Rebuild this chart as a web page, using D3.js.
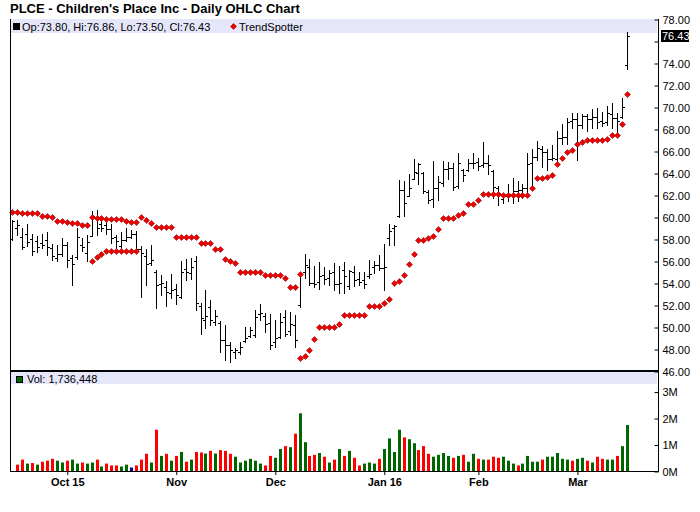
<!DOCTYPE html>
<html>
<head>
<meta charset="utf-8">
<script src="https://cdn.jsdelivr.net/npm/d3@7"></script>
<style>
  body { margin: 0; background: #fff; }
  svg text { font-family: "Liberation Sans", Arial, sans-serif; }
</style>
</head>
<body>
<svg id="chart" width="700" height="512"></svg>
<script>
// ---- data ----
var holidays = ['2015-11-26', '2015-12-25', '2016-01-01', '2016-01-18', '2016-02-15'];
var tickLabels = ['Oct 15', 'Nov', 'Dec', 'Jan 16', 'Feb', 'Mar'];

var open = [
  58.0, 59.0, 58.2, 58.5, 58.0, 57.8, 57.6, 57.9, 57.2, 56.3,
  56.6, 57.5, 56.3, 56.4, 57.5, 56.7, 58.3, 60.0, 59.4, 59.3,
  58.9, 58.2, 57.4, 57.9, 58.2, 58.5, 57.1, 56.5, 55.8, 55.0,
  53.9, 53.6, 53.1, 53.5, 52.7, 55.3, 54.9, 56.0, 51.9, 50.6,
  51.8, 50.5, 50.4, 48.8, 48.4, 47.7, 47.7, 48.7, 49.2, 49.3,
  51.2, 51.0, 50.4, 48.6, 49.1, 50.9, 49.6, 50.2, 52.0, 55.0,
  55.5, 54.0, 54.1, 54.7, 54.5, 55.0, 53.9, 55.2, 53.75, 55.0,
  54.4, 54.3, 54.6, 55.5, 55.6, 55.4, 58.1, 59.0, 60.1, 62.5,
  61.9, 63.5, 64.0, 64.0, 62.3, 61.6, 62.6, 63.1, 64.4, 64.5,
  62.8, 64.3, 64.3, 64.9, 65.0, 64.7, 64.9, 64.2, 62.6, 61.6,
  61.9, 62.0, 62.4, 62.5, 62.6, 64.9, 65.5, 66.2, 65.9, 65.3,
  65.3, 67.2, 67.3, 68.7, 68.9, 68.4, 69.2, 68.9, 69.1, 68.7,
  68.6, 69.4, 69.0, 69.1, 73.80
];
var high = [
  59.77, 59.77, 59.01, 59.37, 58.46, 58.25, 58.46, 58.64, 57.55, 57.49,
  58.1, 57.73, 56.58, 59.01, 58.1, 58.4, 60.53, 60.68, 60.07, 59.77,
  59.37, 58.4, 58.64, 59.01, 58.86, 58.7, 57.34, 57.09, 57.43, 55.21,
  54.75, 54.2, 54.81, 53.9, 55.97, 56.18, 56.27, 56.43, 52.17, 53.39,
  52.47, 51.56, 50.59, 50.19, 48.67, 48.06, 48.67, 50.04, 50.04, 51.56,
  52.11, 51.26, 51.2, 50.65, 51.26, 51.56, 51.32, 51.1, 54.91, 56.67,
  56.18, 55.51, 55.88, 55.45, 55.21, 55.85, 55.51, 55.88, 55.21, 55.57,
  54.96, 54.96, 56.06, 55.97, 56.58, 57.58, 59.37, 59.31, 63.36, 63.27,
  63.87, 65.24, 64.94, 64.09, 62.5, 65.09, 63.72, 65.09, 65.0, 64.94,
  65.79, 64.39, 65.3, 65.85, 65.39, 66.82, 65.61, 64.24, 62.81, 62.2,
  63.02, 63.57, 63.27, 62.96, 65.85, 66.15, 66.92, 66.46, 66.15, 66.55,
  67.83, 68.44, 68.98, 69.41, 69.5, 69.35, 69.35, 69.8, 69.9, 69.59,
  70.11, 70.32, 69.5, 70.81, 76.86
];
var low = [
  57.94, 58.34, 57.12, 57.34, 56.58, 56.82, 57.18, 56.58, 56.06, 55.97,
  56.48, 55.45, 53.78, 56.21, 56.94, 55.97, 58.25, 58.34, 58.7, 58.46,
  57.64, 56.88, 57.03, 57.79, 58.1, 57.03, 52.71, 53.84, 55.6, 51.77,
  52.93, 51.92, 52.62, 52.07, 52.62, 54.3, 54.36, 51.56, 49.37, 49.89,
  50.19, 50.19, 47.76, 47.0, 46.85, 47.15, 47.55, 48.67, 49.07, 49.13,
  50.65, 49.58, 47.97, 48.22, 48.98, 49.19, 49.28, 48.15, 51.8, 54.45,
  53.84, 53.63, 53.45, 53.93, 53.84, 53.32, 53.08, 53.08, 53.44, 53.75,
  53.84, 53.53, 54.45, 54.9, 55.15, 53.38, 57.49, 57.49, 60.01, 60.13,
  61.9, 63.48, 62.96, 62.2, 61.29, 60.92, 61.53, 62.81, 63.48, 62.45,
  62.66, 63.27, 64.18, 64.48, 64.27, 64.57, 63.87, 61.75, 61.1, 61.23,
  61.5, 61.23, 61.5, 61.75, 62.2, 62.66, 65.15, 64.54, 64.24, 65.15,
  64.79, 66.61, 66.67, 68.13, 65.15, 68.13, 67.83, 68.13, 68.07, 68.28,
  68.38, 68.13, 67.46, 68.98, 73.50
];
var close = [
  59.6, 59.3, 57.3, 57.7, 56.9, 57.3, 57.5, 57.3, 56.5, 56.6,
  57.5, 56.1, 55.7, 58.2, 57.3, 57.7, 60.1, 59.0, 59.0, 58.9,
  58.1, 57.8, 57.9, 58.2, 58.5, 57.1, 56.7, 55.7, 56.1, 53.8,
  54.0, 53.2, 53.4, 52.9, 55.0, 55.0, 55.5, 52.2, 50.8, 51.0,
  50.6, 51.0, 48.8, 48.4, 47.9, 47.9, 48.2, 49.0, 49.7, 50.9,
  51.3, 50.3, 48.4, 49.0, 50.5, 49.4, 50.3, 48.8, 54.8, 55.6,
  54.0, 53.9, 54.6, 54.4, 54.9, 53.9, 54.0, 54.6, 55.05, 54.3,
  54.05, 53.93, 54.84, 55.6, 55.36, 55.45, 58.77, 59.16, 62.5, 61.3,
  62.66, 64.09, 64.85, 62.35, 61.59, 62.66, 63.17, 64.39, 64.48, 62.75,
  64.94, 63.8, 64.88, 64.94, 64.6, 64.94, 64.69, 62.7, 62.2, 61.9,
  62.05, 62.35, 62.5, 62.6, 64.85, 65.45, 66.25, 65.94, 65.24, 65.4,
  67.22, 67.3, 68.68, 68.9, 68.38, 69.2, 68.9, 69.1, 68.68, 68.59,
  69.41, 69.04, 68.74, 70.02, 76.43
];
var trend = [
  60.47, 60.47, 60.38, 60.38, 60.38, 60.38, 60.07, 60.07, 60.01, 59.68,
  59.68, 59.56, 59.46, 59.46, 59.25, 59.25, 60.01, 59.92, 59.92, 59.86,
  59.86, 59.86, 59.86, 59.68, 59.56, 59.56, 60.01, 59.77, 59.46, 59.1,
  59.1, 59.1, 59.1, 58.19, 58.19, 58.19, 58.19, 58.19, 57.64, 57.64,
  57.64, 57.1, 57.1, 56.18, 56.03, 55.82, 55.0, 55.0, 55.0, 55.0,
  55.0, 54.75, 54.75, 54.75, 54.75, 54.45, 53.63, 53.63, 47.15, 47.36,
  47.91, 48.88, 50.04, 50.04, 50.04, 50.04, 50.25, 51.1, 51.1, 51.1,
  51.1, 51.1, 51.92, 51.92, 51.92, 52.17, 52.53, 53.99, 54.2, 54.72,
  55.72, 56.64, 57.94, 57.94, 58.1, 58.31, 58.95, 59.92, 59.92, 59.92,
  60.16, 60.38, 61.2, 61.2, 61.59, 62.05, 62.05, 62.05, 62.05, 62.02,
  62.02, 62.02, 62.02, 62.02, 62.02, 62.66, 63.57, 63.57, 63.66, 63.78,
  64.85, 65.39, 65.88, 66.12, 66.61, 66.85, 66.98, 66.98, 66.98, 66.98,
  67.13, 67.43, 67.43, 68.5, 71.14
];
// second TrendSpotter row shown around the reversals
var trendAlt = {16: 55.97, 17: 56.36, 18: 56.64, 19: 56.94, 20: 56.94, 21: 56.94,
  22: 56.94, 23: 56.94, 24: 56.94, 25: 56.94, 58: 54.84};

// volume in millions; first day's bar is not shown
var volume = [
  null, 0.24, 0.43, 0.28, 0.30, 0.24, 0.35, 0.39, 0.46, 0.39, 0.32,
  0.39, 0.43, 0.28, 0.32, 0.28, 0.32, 0.43, 0.17, 0.28, 0.21,
  0.21, 0.17, 0.24, 0.13, 0.21, 0.43, 0.65, 0.32, 1.56, 0.57,
  0.65, 0.39, 0.57, 0.72, 0.35, 0.43, 0.72, 0.70, 0.66, 0.76,
  0.66, 0.79, 0.76, 0.65, 0.54, 0.32, 0.39, 0.46, 0.39, 0.28,
  0.21, 0.57, 0.50, 0.83, 0.94, 0.90, 1.41, 2.18, 1.09, 0.57,
  0.61, 0.68, 0.54, 0.32, 0.43, 0.83, 0.57, 0.76, 0.50, 0.21,
  0.28, 0.32, 0.28, 0.46, 0.83, 1.23, 0.72, 1.56, 1.27, 1.20,
  1.05, 0.79, 0.94, 0.65, 0.54, 0.61, 0.68, 0.57, 0.50, 0.57,
  0.61, 0.35, 0.65, 0.46, 0.43, 0.43, 0.54, 0.50, 0.54, 0.39,
  0.28, 0.21, 0.28, 0.57, 0.35, 0.35, 0.43, 0.54, 0.54, 0.68,
  0.46, 0.43, 0.39, 0.46, 0.50, 0.39, 0.32, 0.54, 0.46, 0.43,
  0.43, 0.57, 0.94, 1.736448
];
// u = up day, d = down day, n = unchanged
var volDir = ('d' + 'ddududdduu' + 'duuduududd' + 'duundddudu' + 'dudududdud' +
  'uddduuuuuu' + 'dduududuud' + 'dududududd' + 'uuuduuuudu' + 'uddduuuudu' +
  'duududdduu' + 'uduuuuduuu' + 'uuduududdu' + 'uduu').split('');

// trading days Sep 16 2015 .. Mar 15 2016
var fmtDay = d3.utcFormat('%Y-%m-%d');
var dates = d3.utcDay.range(new Date(Date.UTC(2015, 8, 16)), new Date(Date.UTC(2016, 2, 16)))
  .filter(function(d) {
    return d.getUTCDay() !== 0 && d.getUTCDay() !== 6 && holidays.indexOf(fmtDay(d)) < 0;
  });

var monthStarts = [];
dates.forEach(function(d, i) {
  if (i > 0 && d.getUTCMonth() !== dates[i - 1].getUTCMonth()) monthStarts.push(i);
});

// ---- layout ----
var left = 10, right = 658;
var priceTop = 19, priceBottom = 371;
var volTop = 372, volBottom = 471;
var font = '"Liberation Sans", Arial, sans-serif';

var svg = d3.select('#chart');

var x = d3.scaleLinear().domain([0, dates.length - 1]).range([12.3, 626.5]);
var y = d3.scaleLinear().domain([46, 78]).range([priceBottom, priceTop]);
var yv = d3.scaleLinear().domain([0, 3.74]).range([volBottom, volTop]);

function px(i) { return Math.round(x(i)) + 0.5; }
function py(v) { return Math.round(y(v)) + 0.5; }

// title
svg.append('text')
  .attr('x', 10).attr('y', 13)
  .attr('font-size', 13).attr('font-weight', 'bold')
  .text('PLCE - Children\'s Place Inc - Daily OHLC Chart');

// legend bands
svg.append('rect').attr('x', left + 1).attr('y', priceTop)
  .attr('width', right - left - 2).attr('height', 14).attr('fill', '#e6e6fa');
svg.append('rect').attr('x', left + 1).attr('y', volTop)
  .attr('width', right - left - 2).attr('height', 12).attr('fill', '#e6e6fa');

var n = close.length - 1;
svg.append('rect').attr('x', 13.5).attr('y', 23.5).attr('width', 6).attr('height', 6)
  .attr('fill', '#000').attr('stroke', '#000');
svg.append('text').attr('x', 22).attr('y', 30.5).attr('font-size', 11)
  .text('Op:' + open[n].toFixed(2) + ', Hi:' + high[n].toFixed(2) +
        ', Lo:' + low[n].toFixed(2) + ', Cl:' + close[n].toFixed(2));

function diamond(g, cx, cy) {
  g.append('path')
    .attr('d', 'M' + cx + ',' + (cy - 3) + 'L' + (cx + 3) + ',' + cy + 'L' + cx + ',' + (cy + 3) +
      'L' + (cx - 3) + ',' + cy + 'Z')
    .attr('fill', '#ee0000').attr('stroke', '#a00000').attr('stroke-width', 0.6);
}
diamond(svg, 233.5, 26.5);
svg.append('text').attr('x', 239).attr('y', 30.5).attr('font-size', 11).text('TrendSpotter');

svg.append('rect').attr('x', 16.5).attr('y', 376.5).attr('width', 6).attr('height', 6)
  .attr('fill', '#006600').attr('stroke', '#000');
svg.append('text').attr('x', 27).attr('y', 383).attr('font-size', 11)
  .text('Vol: ' + d3.format(',')(Math.round(volume[n] * 1e6)));

// volume bars
var volColor = {u: '#006600', d: '#ff0000', n: '#000080'};
svg.append('g').selectAll('rect')
  .data(volume.map(function(v, i) { return {i: i, v: v}; }).filter(function(d) { return d.v !== null; }))
  .enter().append('rect')
  .attr('x', function(d) { return Math.round(x(d.i)) - 1; })
  .attr('y', function(d) { return yv(d.v); })
  .attr('width', 3)
  .attr('height', function(d) { return yv(0) - yv(d.v); })
  .attr('fill', function(d) { return volColor[volDir[d.i]]; });

// OHLC bars
svg.append('g').selectAll('path')
  .data(d3.range(close.length))
  .enter().append('path')
  .attr('d', function(i) {
    var cx = px(i);
    return 'M' + cx + ',' + Math.round(y(high[i])) + 'V' + (Math.round(y(low[i])) + 1) +
      'M' + (cx - 2.5) + ',' + py(open[i]) + 'H' + cx +
      'M' + cx + ',' + py(close[i]) + 'H' + (cx + 2.5);
  })
  .attr('fill', 'none').attr('stroke', '#000').attr('stroke-width', 1);

// TrendSpotter
var tg = svg.append('g');
trend.forEach(function(v, i) { diamond(tg, px(i), py(v)); });
Object.keys(trendAlt).forEach(function(k) { diamond(tg, px(+k), py(trendAlt[k])); });

// frame
svg.append('line').attr('x1', left + 0.5).attr('x2', left + 0.5)
  .attr('y1', priceTop).attr('y2', volBottom + 1).attr('stroke', '#000');
svg.append('line').attr('x1', left).attr('x2', right + 1)
  .attr('y1', volBottom + 0.5).attr('y2', volBottom + 0.5).attr('stroke', '#000');
svg.append('line').attr('x1', left).attr('x2', right + 1)
  .attr('y1', priceBottom).attr('y2', priceBottom).attr('stroke', '#000').attr('stroke-width', 2);
svg.append('line').attr('x1', right + 0.5).attr('x2', right + 0.5)
  .attr('y1', priceTop).attr('y2', volBottom + 1).attr('stroke', '#000');

// right axes
var lastY = y(close[n]);
var priceAxis = svg.append('g')
  .attr('transform', 'translate(' + (right + 0.5) + ',0.5)')
  .call(d3.axisRight(y)
    .tickValues(d3.range(46, 78.01, 2))
    .tickSizeInner(-4).tickSizeOuter(0).tickPadding(4)
    .tickFormat(function(d) { return Math.abs(y(d) - lastY) < 9 ? '' : d3.format('.2f')(d); }));
priceAxis.select('.domain').remove();

svg.append('rect').attr('x', right + 3).attr('y', Math.round(lastY) - 6)
  .attr('width', 28).attr('height', 12).attr('fill', '#000');
svg.append('text').attr('x', right + 4).attr('y', lastY).attr('dy', '0.34em')
  .attr('font-size', 11).attr('fill', '#fff').text(close[n].toFixed(2));

var volAxis = svg.append('g')
  .attr('transform', 'translate(' + (right + 0.5) + ',0.5)')
  .call(d3.axisRight(yv)
    .tickValues([0, 1, 2, 3])
    .tickSizeInner(-4).tickSizeOuter(0).tickPadding(4)
    .tickFormat(function(d) { return d + 'M'; }));
volAxis.select('.domain').remove();

// bottom axis
var timeAxis = svg.append('g')
  .attr('transform', 'translate(0.5,' + (volBottom + 1) + ')')
  .call(d3.axisBottom(x)
    .tickValues(monthStarts)
    .tickSizeInner(3).tickSizeOuter(0).tickPadding(3)
    .tickFormat(function(d, k) { return tickLabels[k]; }));
timeAxis.select('.domain').remove();
timeAxis.selectAll('text').attr('font-weight', 'bold');

svg.selectAll('.tick text').attr('font-size', 11).attr('font-family', font).attr('fill', '#000');
svg.selectAll('.tick line').attr('stroke', '#000');
</script>
</body>
</html>
